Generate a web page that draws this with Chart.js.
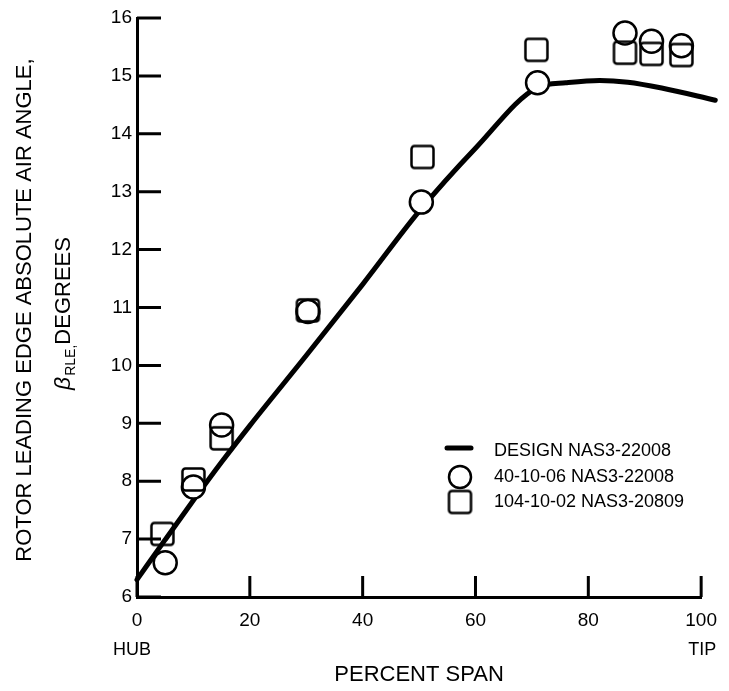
<!DOCTYPE html>
<html>
<head>
<meta charset="utf-8">
<script src="https://cdn.jsdelivr.net/npm/chart.js@4.4.0/dist/chart.umd.min.js"></script>
<style>html,body{margin:0;padding:0;background:#fff}</style>
</head>
<body>
<canvas id="chart" width="729" height="691"></canvas>
<script>
const FONT = '"Liberation Sans", Arial, Helvetica, sans-serif';

// design curve (percent span, degrees)
const designSpan  = [0, 5, 10, 15, 20, 30, 40, 50, 60, 71, 76, 82, 87, 93, 102.5];
const designAngle = [6.3, 6.99, 7.67, 8.33, 8.96, 10.17, 11.4, 12.66, 13.75, 14.8, 14.88, 14.92, 14.89, 14.79, 14.58];

// 40-10-06 NAS3-22008 (circles)
const run40Span  = [5, 10, 15, 30.3, 50.4, 71, 86.5, 91.2, 96.5];
const run40Angle = [6.59, 7.9, 8.97, 10.93, 12.82, 14.88, 15.74, 15.6, 15.52];

// 104-10-02 NAS3-20809 (squares)
const run104Span  = [4.5, 10, 15, 30.3, 50.6, 70.8, 86.5, 91.2, 96.5];
const run104Angle = [7.09, 8.03, 8.74, 10.95, 13.6, 15.45, 15.4, 15.38, 15.36];

const xTicks = [0, 20, 40, 60, 80, 100];
const yTicks = [6, 7, 8, 9, 10, 11, 12, 13, 14, 15, 16];
const xEndLabels = ['HUB', 'TIP'];
const seriesLabels = ['DESIGN NAS3-22008', '40-10-06 NAS3-22008', '104-10-02 NAS3-20809'];

const toPoints = (xs, ys) => xs.map((x, i) => ({ x: x, y: ys[i] }));

// open square with slightly rounded corners
function squareMarker(side, lw, r) {
  const n = Math.ceil(side + lw + 2);
  const c = document.createElement('canvas');
  c.width = n; c.height = n;
  const g = c.getContext('2d');
  const o = (n - side) / 2;
  g.lineWidth = lw;
  g.strokeStyle = '#000';
  g.beginPath();
  g.moveTo(o + r, o);
  g.arcTo(o + side, o, o + side, o + side, r);
  g.arcTo(o + side, o + side, o, o + side, r);
  g.arcTo(o, o + side, o, o, r);
  g.arcTo(o, o, o + side, o, r);
  g.closePath();
  g.stroke();
  return c;
}
const squareImg = squareMarker(22, 2.5, 3);

const decor = {
  id: 'decor',
  beforeDatasetsDraw(chart) {
    const ctx = chart.ctx, xs = chart.scales.x, ys = chart.scales.y, a = chart.chartArea;
    ctx.save();
    ctx.strokeStyle = '#000';
    ctx.lineWidth = 3;
    ctx.lineCap = 'butt';
    ctx.beginPath();
    xTicks.forEach(v => {
      const px = xs.getPixelForValue(v);
      ctx.moveTo(px, a.bottom); ctx.lineTo(px, a.bottom - 21);
    });
    yTicks.forEach(v => {
      const py = ys.getPixelForValue(v);
      ctx.moveTo(a.left, py); ctx.lineTo(a.left + 24, py);
    });
    ctx.stroke();
    ctx.restore();
  },
  afterDraw(chart) {
    const ctx = chart.ctx, xs = chart.scales.x, a = chart.chartArea;
    ctx.save();
    ctx.fillStyle = '#000';

    // HUB / TIP under the end ticks
    ctx.font = '18px ' + FONT;
    ctx.textAlign = 'center';
    ctx.textBaseline = 'middle';
    ctx.fillText(xEndLabels[0], xs.getPixelForValue(0) - 5, 650);
    ctx.fillText(xEndLabels[1], xs.getPixelForValue(100) + 1, 650);

    // x title
    ctx.font = '22px ' + FONT;
    ctx.fillText('PERCENT SPAN', (a.left + a.right) / 2, 675);

    // y title, line 1
    ctx.save();
    ctx.translate(25, 310);
    ctx.rotate(-Math.PI / 2);
    ctx.font = '22px ' + FONT;
    ctx.textAlign = 'center';
    ctx.textBaseline = 'middle';
    ctx.fillText('ROTOR LEADING EDGE ABSOLUTE AIR ANGLE,', 0, 0);
    ctx.restore();

    // y title, line 2: beta subscript RLE
    ctx.save();
    ctx.translate(62, 314);
    ctx.rotate(-Math.PI / 2);
    ctx.textBaseline = 'alphabetic';
    ctx.textAlign = 'left';
    const fBeta = 'italic 23px ' + FONT, fSub = '14px ' + FONT, fMain = '22px ' + FONT;
    ctx.font = fBeta; const wB = ctx.measureText('\u03B2').width;
    ctx.font = fSub;  const wS = ctx.measureText('RLE,').width;
    ctx.font = fMain; const wM = ctx.measureText('DEGREES').width;
    let x0 = -(wB + wS + wM) / 2;
    const base = 8;
    ctx.font = fBeta; ctx.fillText('\u03B2', x0, base); x0 += wB + 1;
    ctx.font = fSub;  ctx.fillText('RLE,', x0, base + 5); x0 += wS;
    ctx.font = fMain; ctx.fillText('DEGREES', x0, base);
    ctx.restore();

    // legend
    ctx.font = '18px ' + FONT;
    ctx.textAlign = 'left';
    ctx.textBaseline = 'middle';
    ctx.strokeStyle = '#000';
    ctx.lineWidth = 5;
    ctx.lineCap = 'round';
    ctx.beginPath(); ctx.moveTo(447, 448); ctx.lineTo(471, 448); ctx.stroke();
    ctx.lineWidth = 2.5;
    ctx.fillStyle = '#fff';
    ctx.beginPath(); ctx.arc(460, 477, 11, 0, Math.PI * 2); ctx.fill(); ctx.stroke();
    ctx.drawImage(squareImg, 460 - squareImg.width / 2, 502 - squareImg.height / 2);
    ctx.fillStyle = '#000';
    ctx.fillText(seriesLabels[0], 494, 451);
    ctx.fillText(seriesLabels[1], 494, 477);
    ctx.fillText(seriesLabels[2], 494, 502);
    ctx.restore();
  }
};

new Chart(document.getElementById('chart'), {
  type: 'scatter',
  data: {
    datasets: [
      {
        label: seriesLabels[0],
        type: 'line',
        data: toPoints(designSpan, designAngle),
        borderColor: '#000',
        borderWidth: 5,
        borderCapStyle: 'round',
        borderJoinStyle: 'round',
        pointRadius: 0,
        fill: false,
        cubicInterpolationMode: 'monotone',
        clip: false,
        order: 3
      },
      {
        label: seriesLabels[1],
        data: toPoints(run40Span, run40Angle),
        pointStyle: 'circle',
        pointRadius: 11.5,
        pointBorderWidth: 2.5,
        pointBorderColor: '#000',
        pointBackgroundColor: '#fff',
        clip: false,
        order: 2
      },
      {
        label: seriesLabels[2],
        data: toPoints(run104Span, run104Angle),
        pointStyle: squareImg,
        pointRadius: 11,
        clip: false,
        order: 1
      }
    ]
  },
  options: {
    responsive: false,
    devicePixelRatio: 1,
    animation: false,
    events: [],
    layout: { padding: { top: 18, right: 21, left: 0, bottom: 0 } },
    plugins: { legend: { display: false }, tooltip: { enabled: false } },
    scales: {
      x: {
        type: 'linear',
        min: 0, max: 100,
        afterBuildTicks: s => { s.ticks = xTicks.map(v => ({ value: v })); },
        afterFit: s => { s.height = 94; },
        grid: { display: false, drawTicks: false },
        border: { display: true, color: '#000', width: 3 },
        ticks: { color: '#000', font: { family: FONT, size: 19 }, padding: 12, maxRotation: 0 }
      },
      y: {
        type: 'linear',
        min: 6, max: 16,
        afterBuildTicks: s => { s.ticks = yTicks.map(v => ({ value: v })); },
        afterFit: s => { s.width = 137; },
        grid: { display: false, drawTicks: false },
        border: { display: true, color: '#000', width: 3 },
        ticks: { color: '#000', font: { family: FONT, size: 19 }, padding: 5 }
      }
    }
  },
  plugins: [decor]
});
</script>
</body>
</html>
